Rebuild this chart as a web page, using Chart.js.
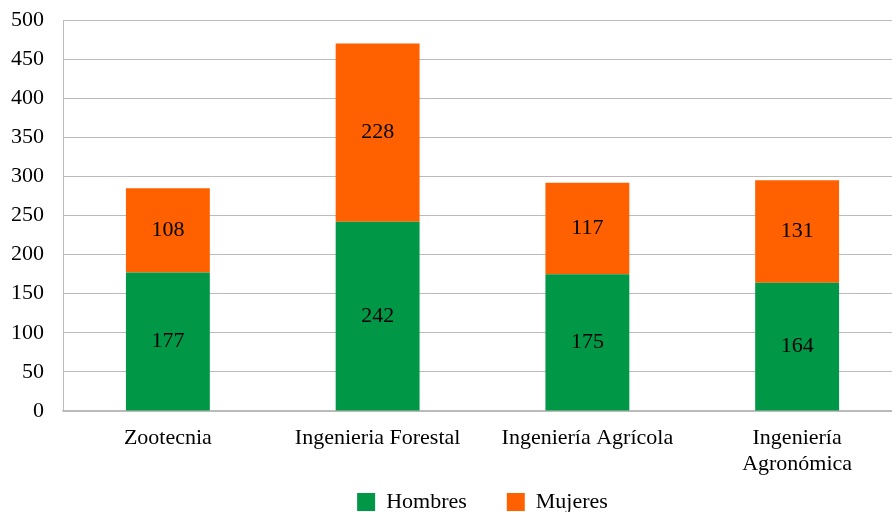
<!DOCTYPE html>
<html>
<head>
<meta charset="utf-8">
<script src="https://cdn.jsdelivr.net/npm/chart.js@4/dist/chart.umd.min.js"></script>
<style>
    html, body { margin: 0; padding: 0; background: #ffffff; overflow: hidden; }
</style>
</head>
<body>
<canvas id="carreras" width="902" height="512"></canvas>
<script>
// --- Data --- //

const carreras = ["Zootecnia", "Ingenieria Forestal", "Ingeniería Agrícola", ["Ingeniería", "Agronómica"]];
const hombres = [177, 242, 175, 164];
const mujeres = [108, 228, 117, 131];
const yTicks = [0, 50, 100, 150, 200, 250, 300, 350, 400, 450, 500];

const FONT = "'Liberation Serif', 'Times New Roman', serif";
const GREEN = "#009846";
const ORANGE = "#FF6000";
const GRID = "#BBBBBB";
const LEGEND_GAP = 40;

// --- Value labels in the middle of each segment --- //

const segmentLabels = {
    id: "segmentLabels",
    afterDatasetsDraw(chart) {
        const ctx = chart.ctx;
        ctx.save();
        ctx.font = "22px " + FONT;
        ctx.fillStyle = "#000000";
        ctx.textAlign = "center";
        ctx.textBaseline = "middle";
        chart.data.datasets.forEach(function (dataset, i) {
            chart.getDatasetMeta(i).data.forEach(function (bar, j) {
                const midY = (bar.y + bar.base) / 2;
                ctx.fillText(String(dataset.data[j]), bar.x, midY);
            });
        });
        ctx.restore();
    }
};

// --- Wider gap between legend items without growing the legend box --- //

const legendSpacing = {
    id: "legendSpacing",
    afterLayout(chart) {
        const legend = chart.legend;
        const extra = LEGEND_GAP - legend.options.labels.padding;
        if (extra === 0) {
            return;
        }
        legend.options.labels.padding = LEGEND_GAP;
        legend.lineWidths[0] += 2 * extra;
        // keep the row where it was, then drop it a bit lower
        legend.top -= extra - 11;
    }
};

// --- Chart --- //

new Chart(document.getElementById("carreras"), {
    type: "bar",
    data: {
        labels: carreras,
        datasets: [
            {
                label: "Hombres",
                data: hombres,
                backgroundColor: GREEN,
                barPercentage: 1,
                categoryPercentage: 0.4
            },
            {
                label: "Mujeres",
                data: mujeres,
                backgroundColor: ORANGE,
                barPercentage: 1,
                categoryPercentage: 0.4
            }
        ]
    },
    options: {
        responsive: false,
        animation: false,
        layout: {
            padding: 0
        },
        scales: {
            x: {
                stacked: true,
                grid: { display: false, drawTicks: false },
                border: { color: GRID, width: 1.5 },
                ticks: {
                    color: "#000000",
                    font: { family: FONT, size: 22, lineHeight: 1.2 },
                    padding: 14,
                    maxRotation: 0,
                    autoSkip: false
                },
                afterFit(axis) {
                    axis.height = 67;
                }
            },
            y: {
                stacked: true,
                min: 0,
                max: 500,
                afterBuildTicks(axis) {
                    axis.ticks = yTicks.map(v => ({ value: v }));
                },
                afterFit(axis) {
                    axis.width = 63;
                    axis.paddingTop = 20;
                },
                grid: { color: GRID, lineWidth: 1, drawTicks: false },
                border: { color: GRID, width: 1 },
                ticks: {
                    color: "#000000",
                    font: { family: FONT, size: 22 },
                    padding: 19
                }
            }
        },
        plugins: {
            legend: {
                position: "bottom",
                fullSize: false,
                labels: {
                    color: "#000000",
                    font: { family: FONT, size: 22 },
                    boxWidth: 18,
                    boxHeight: 18,
                    padding: 2
                }
            },
            tooltip: { enabled: false }
        }
    },
    plugins: [segmentLabels, legendSpacing]
});
</script>
</body>
</html>
